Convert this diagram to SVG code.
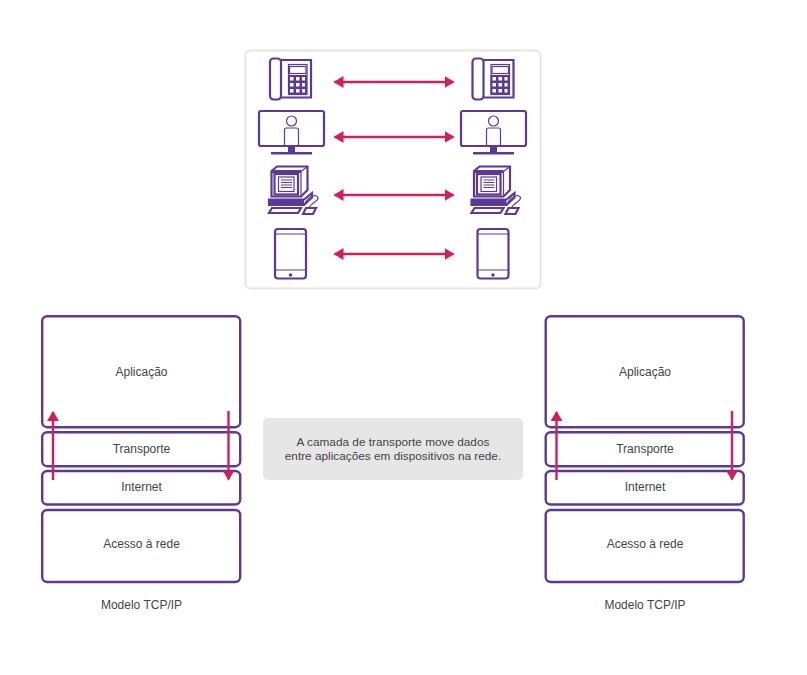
<svg xmlns="http://www.w3.org/2000/svg" xmlns:xlink="http://www.w3.org/1999/xlink" width="807" height="675" viewBox="0 0 807 675">
<style>
.ic{fill:none;stroke:#5b3a96;stroke-width:2.2}
.thin{fill:none;stroke:#5b3a96;stroke-width:1.2}
.solid{fill:#5b3a96;stroke:none}
.layer{fill:#fff;stroke:#5b3a96;stroke-width:2.4}
.lnk{fill:none;stroke:#d11f5d;stroke-width:2.4}
text{font-family:"Liberation Sans",Arial,sans-serif;font-size:12px;fill:#444;text-anchor:middle}
.note{font-size:11.800px}
</style>
<defs>
<marker id="ah" viewBox="0 0 10 12" refX="9" refY="6" markerUnits="userSpaceOnUse" markerWidth="10" markerHeight="12" orient="auto-start-reverse"><path d="M0 0L10 6L0 12Z" fill="#d11f5d"/></marker>
<g id="phone">
<rect class="ic" x="270" y="58.500" width="11" height="41" rx="3.500"/>
<path class="ic" d="M281 60H311V97.500H281"/>
<rect class="thin" x="288.500" y="64.500" width="18.500" height="30"/>
<rect class="thin" x="289.500" y="66.500" width="16.500" height="7"/>
<path class="solid" d="M288 75H307V95H288ZM290 77V80.500H293.500V77ZM296 77V80.500H299.500V77ZM302 77V80.500H305V77ZM290 83V86.500H293.500V83ZM296 83V86.500H299.500V83ZM302 83V86.500H305V83ZM290 89V92.500H293.500V89ZM296 89V92.500H299.500V89ZM302 89V92.500H305V89Z" fill-rule="evenodd"/>
</g>
<g id="monitor">
<rect class="ic" x="259" y="111" width="65" height="35" rx="2"/>
<circle cx="291.500" cy="121" r="5" class="thin"/>
<path class="thin" d="M284.500 146V130Q284.500 128 286.500 128H296.500Q298.500 128 298.500 130V146"/>
<rect class="solid" x="288" y="146" width="7" height="6"/>
<rect class="solid" x="271" y="152" width="41" height="2.500"/>
</g>
<g id="computer">
<path class="ic" d="M271.500 171L277 166.500H307.500V190L301 196.500H271.500Z"/>
<path class="thin" d="M271.500 171.500H301V196.500M301 171.500L307.500 166.500"/>
<rect class="solid" x="271" y="170" width="30" height="3"/>
<rect class="ic" x="274.500" y="174" width="23.500" height="20.500"/>
<rect class="thin" x="278.500" y="177" width="15.500" height="14.500"/>
<path class="thin" d="M281 180H292M281 182.500H292M281 185H292M281 187.500H292"/>
<path class="ic" d="M269 199.500H304L312 193V197.500L304 205H269Z"/>
<path class="solid" d="M269 199H304V205H269Z"/>
<path class="ic" d="M272 208L269 213H298L301 208Z"/>
<path class="ic" d="M306 208H316L313 214H303Z"/>
<path class="thin" d="M304 205Q308 196 315 195.500Q321 197 315 202Q310 205 309 208"/>
</g>
<g id="tablet">
<rect class="ic" x="275" y="229" width="31" height="49.500" rx="3"/>
<path class="thin" d="M275 234H306M275 270H306"/>
<circle class="solid" cx="290.500" cy="275" r="1.800"/>
</g>
</defs>

<rect id="panel" x="245.500" y="50.500" width="295" height="238" rx="5" fill="#fff" stroke="#e6e6e6" stroke-width="2"/>

<g id="phone-left"><use href="#phone"/></g>
<g id="phone-right"><use href="#phone" x="202.500"/></g>
<g id="monitor-left"><use href="#monitor"/></g>
<g id="monitor-right"><use href="#monitor" x="202"/></g>
<g id="computer-left"><use href="#computer"/></g>
<g id="computer-right"><use href="#computer" x="202.500"/></g>
<g id="tablet-left"><use href="#tablet"/></g>
<g id="tablet-right"><use href="#tablet" x="202.500"/></g>

<g id="stack-left">
<g id="left-aplicacao"><rect class="layer" x="42.200" y="316.200" width="198" height="111" rx="5"/><text x="141.500" y="376">Aplicação</text></g>
<g id="left-transporte"><rect class="layer" x="42.200" y="432.200" width="198" height="34" rx="5"/><text x="141.500" y="453">Transporte</text></g>
<g id="left-internet"><rect class="layer" x="42.200" y="471" width="198" height="33.500" rx="5"/><text x="141.500" y="491">Internet</text></g>
<g id="left-acesso"><rect class="layer" x="42.200" y="510" width="198" height="72" rx="5"/><text x="141.500" y="548">Acesso à rede</text></g>
<text id="left-caption" x="141.500" y="609">Modelo TCP/IP</text>
</g>
<g id="stack-right">
<g id="right-aplicacao"><rect class="layer" x="545.700" y="316.200" width="198" height="111" rx="5"/><text x="645" y="376">Aplicação</text></g>
<g id="right-transporte"><rect class="layer" x="545.700" y="432.200" width="198" height="34" rx="5"/><text x="645" y="453">Transporte</text></g>
<g id="right-internet"><rect class="layer" x="545.700" y="471" width="198" height="33.500" rx="5"/><text x="645" y="491">Internet</text></g>
<g id="right-acesso"><rect class="layer" x="545.700" y="510" width="198" height="72" rx="5"/><text x="645" y="548">Acesso à rede</text></g>
<text id="right-caption" x="645" y="609">Modelo TCP/IP</text>
</g>

<g id="note">
<rect x="263" y="418" width="260" height="62" rx="5" fill="#e6e6e6"/>
<text class="note" x="393" y="446">A camada de transporte move dados</text>
<text class="note" x="393" y="460">entre aplicações em dispositivos na rede.</text>
</g>

<g id="connectors">
<path class="lnk" d="M334.500 82H453.500" marker-start="url(#ah)" marker-end="url(#ah)"/>
<path class="lnk" d="M334.500 137H453.500" marker-start="url(#ah)" marker-end="url(#ah)"/>
<path class="lnk" d="M334.500 195H453.500" marker-start="url(#ah)" marker-end="url(#ah)"/>
<path class="lnk" d="M334.500 254H453.500" marker-start="url(#ah)" marker-end="url(#ah)"/>
<path class="lnk" d="M53 480V412" marker-end="url(#ah)"/>
<path class="lnk" d="M228.500 411V479.500" marker-end="url(#ah)"/>
<path class="lnk" d="M556.500 480V412" marker-end="url(#ah)"/>
<path class="lnk" d="M732 411V479.500" marker-end="url(#ah)"/>
</g>
</svg>
